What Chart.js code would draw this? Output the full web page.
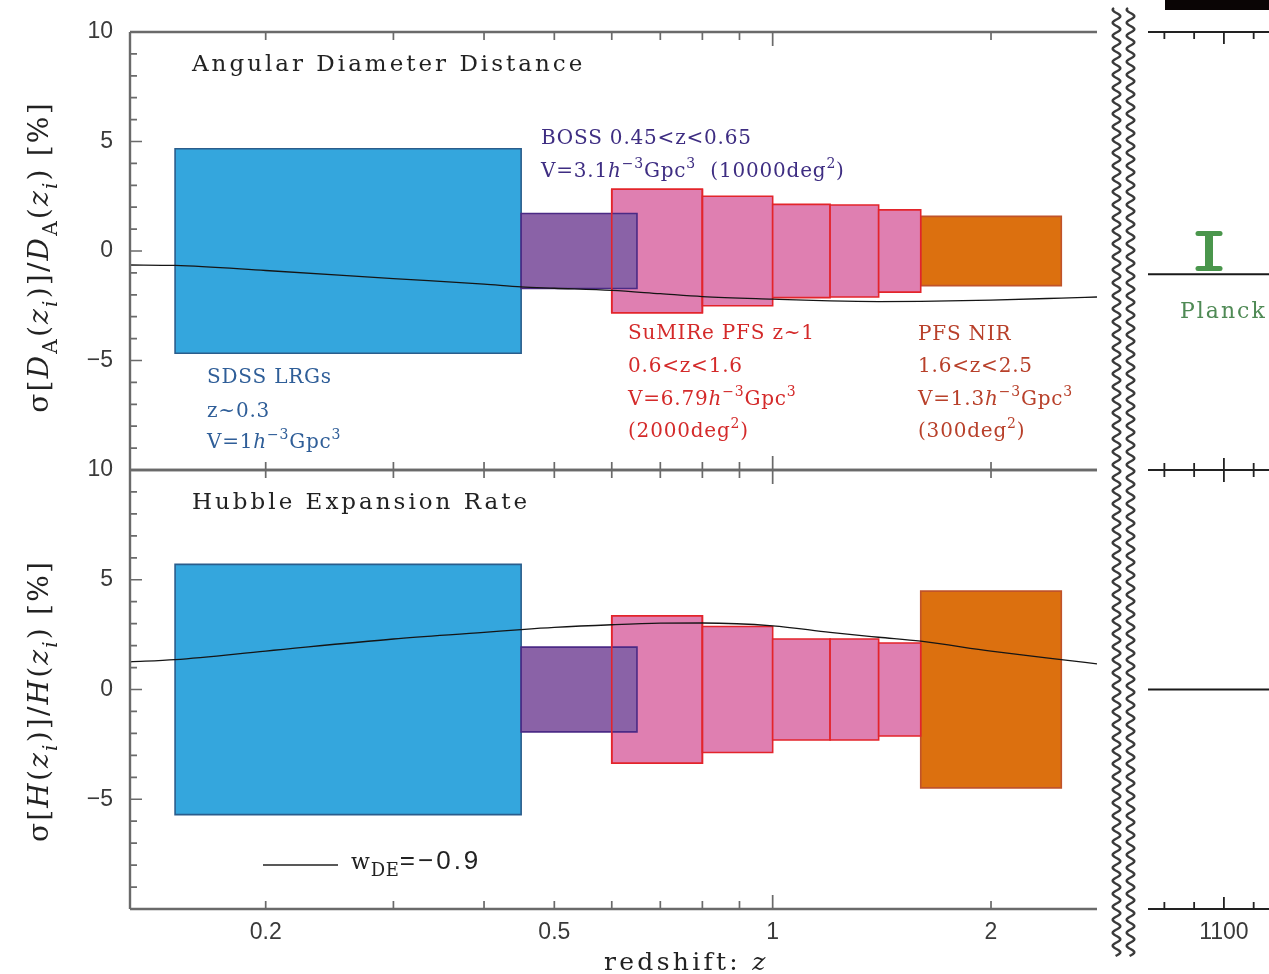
<!DOCTYPE html>
<html>
<head>
<meta charset="utf-8">
<script src="https://cdn.jsdelivr.net/npm/chart.js@4.4.1/dist/chart.umd.min.js"></script>
<style>
  html, body { margin: 0; padding: 0; background: #fff; overflow: hidden; }
  body { width: 1269px; height: 974px; position: relative; }
  canvas { position: absolute; }
</style>
</head>
<body>
<canvas id="topLeft" width="1100" height="474" style="left:0px;top:0px"></canvas>
<canvas id="botLeft" width="1100" height="534" style="left:0px;top:440px"></canvas>
<canvas id="topRight" width="240" height="974" style="left:1100px;top:0px"></canvas>
<canvas id="botRight" width="240" height="534" style="left:1100px;top:440px"></canvas>
<script>
// redshift bins of each survey
const sdssBin = [0.15, 0.45];
const bossBin = [0.45, 0.65];
const pfsBins = [0.6, 0.8, 1.0, 1.2, 1.4, 1.6];
const nirBin = [1.6, 2.5];

// fractional errors in percent (half height of each box)
const sdssErrDA = 4.67, sdssErrH = 5.7;
const bossErrDA = 1.71, bossErrH = 1.93;
const pfsErrDA = [2.82, 2.5, 2.13, 2.1, 1.88];
const pfsErrH = [3.36, 2.87, 2.3, 2.3, 2.12];
const nirErrDA = 1.58, nirErrH = 4.48;

// w_DE = -0.9 curve
const wZ  = [0.13, 0.15, 0.2, 0.3, 0.4, 0.45, 0.5, 0.6, 0.7, 0.8, 1.0, 1.2, 1.4, 1.6, 2.0, 2.5, 2.8];
const wDA = [-0.64, -0.66, -0.89, -1.26, -1.51, -1.64, -1.7, -1.8, -1.95, -2.08, -2.2, -2.28, -2.31, -2.3, -2.24, -2.15, -2.1];
const wH  = [1.26, 1.36, 1.75, 2.3, 2.6, 2.73, 2.83, 2.95, 3.02, 3.03, 2.9, 2.6, 2.38, 2.2, 1.75, 1.36, 1.17];
const wDAcmb = -1.06, wHcmb = 0;

// Planck at the CMB
const planckZ = 1090, planckErr = 0.8;

// axes
const zRange = [0.13, 2.8];
const cmbRange = [1049, 1178];
const yRange = [-10, 10];
const xTickLabels = [0.2, 0.5, 1, 2];
const xMinorTicks = [0.2, 0.3, 0.4, 0.5, 0.6, 0.7, 0.8, 0.9, 1, 2];
const xMajorTicks = [1];
const yTickLabels = [-10, -5, 0, 5, 10];
const yMinorTicks = [-9,-8,-7,-6,-5,-4,-3,-2,-1,0,1,2,3,4,5,6,7,8,9];
const cmbTicks = [1060, 1080, 1100, 1120, 1140, 1160];
const cmbTickLabels = [1100];

const SERIF = '"DejaVu Serif", serif';
const SANS = '"Liberation Sans", Arial, sans-serif';
const C = {
  sdss: '#34a6dd', sdssEdge: '#2a5d8c',
  boss: '#8a62a7', bossEdge: '#4b2a85',
  pfs: '#df7fb1', pfsEdge: '#e3242b',
  nir: '#dc700f', nirEdge: '#c0532a',
  planck: '#4a964c'
};

function fmt(v) { return v < 0 ? '\u2212' + (-v) : String(v); }

// small rich text: $..$ italic, ^{..} sup, _{..} sub, @..@ sans
function parseRich(s) {
  const segs = []; let it = false, sans = false, buf = '';
  const push = (t, mode, ital) => { if (t) segs.push({ t, mode, it: ital, sans }); };
  for (let i = 0; i < s.length; i++) {
    const c = s[i];
    if (c === '$') { push(buf, 'n', it); buf = ''; it = !it; }
    else if (c === '@') { push(buf, 'n', it); buf = ''; sans = !sans; }
    else if ((c === '^' || c === '_') && s[i + 1] === '{') {
      push(buf, 'n', it); buf = '';
      const j = s.indexOf('}', i);
      let t = s.slice(i + 2, j), ital = false;
      if (t[0] === '$') { t = t.slice(1, -1); ital = true; }
      push(t, c === '^' ? 'sup' : 'sub', ital);
      i = j;
    } else buf += c;
  }
  push(buf, 'n', it);
  return segs;
}

function drawRich(ctx, s, x, y, o) {
  const segs = parseRich(s);
  const size = o.size || 20;
  const small = Math.round(size * (o.subScale || 0.7));
  const segSize = g => g.mode !== 'n' ? small : (g.sans && o.sansSize ? o.sansSize : size);
  const fontFor = g => (g.it ? 'italic ' : '') + segSize(g) + 'px ' + (g.sans ? SANS : (o.family || SERIF));
  const spFor = g => ((g.sans && o.sansSpacing != null) ? o.sansSpacing : (o.spacing || 0)) + 'px';
  let w = 0;
  for (const g of segs) { ctx.font = fontFor(g); ctx.letterSpacing = spFor(g); g.w = ctx.measureText(g.t).width; w += g.w; }
  let cx = o.align === 'center' ? x - w / 2 : x;
  ctx.fillStyle = o.color || '#222';
  ctx.textAlign = 'left';
  ctx.textBaseline = 'alphabetic';
  for (const g of segs) {
    ctx.font = fontFor(g);
    ctx.letterSpacing = spFor(g);
    const dy = g.mode === 'sup' ? -size * 0.45 : g.mode === 'sub' ? size * 0.32 : 0;
    ctx.fillText(g.t, cx, y + dy);
    cx += g.w;
  }
}

const notes = {
  id: 'notes',
  afterDraw(chart, args, o) {
    const ctx = chart.ctx;
    for (const n of o.items || []) {
      ctx.save();
      if (n.rotate) {
        ctx.translate(n.x - o.dx, n.y - o.dy);
        ctx.rotate(-Math.PI / 2);
        drawRich(ctx, n.s, 0, 0, n);
      } else {
        drawRich(ctx, n.s, n.x - o.dx, n.y - o.dy, n);
      }
      ctx.restore();
    }
  }
};

const frame = {
  id: 'frame',
  afterDraw(chart, args, o) {
    const { ctx, chartArea: a } = chart;
    const xs = chart.scales.x, ys = chart.scales.y;
    const right = o.toEdge ? chart.width : a.right;
    ctx.save();
    ctx.strokeStyle = o.color;
    ctx.lineWidth = o.width;
    ctx.beginPath();
    if (o.left) { ctx.moveTo(a.left, a.top); ctx.lineTo(a.left, a.bottom); }
    if (o.top) { ctx.moveTo(a.left, a.top); ctx.lineTo(right, a.top); }
    if (o.bottom) { ctx.moveTo(a.left, a.bottom); ctx.lineTo(right, a.bottom); }
    ctx.stroke();
    ctx.lineWidth = o.tickWidth;
    ctx.beginPath();
    for (const v of o.xTicks) {
      const px = xs.getPixelForValue(v);
      const len = o.xMajor.includes(v) ? o.major : o.minor;
      if (o.top) { ctx.moveTo(px, a.top); ctx.lineTo(px, a.top + len); }
      if (o.bottom) { ctx.moveTo(px, a.bottom); ctx.lineTo(px, a.bottom - len); }
    }
    for (const v of (o.yTicks || [])) {
      const py = ys.getPixelForValue(v);
      const len = v % 5 === 0 ? o.major - 2 : o.minor - 1;
      ctx.moveTo(a.left, py); ctx.lineTo(a.left + len, py);
    }
    ctx.stroke();
    if (o.decor) o.decor(ctx);
    ctx.restore();
  }
};

function boxPts(z0, z1, e) {
  return [{ x: z0, y: -e }, { x: z0, y: e }, { x: z1, y: e }, { x: z1, y: -e }, { x: z0, y: -e }];
}
function boxSet(pts, fill, edge) {
  return {
    data: pts, backgroundColor: fill || 'rgba(0,0,0,0)', borderColor: edge, borderWidth: 1.6,
    fill: fill ? 'shape' : false, pointRadius: 0, tension: 0,
    borderJoinStyle: 'miter', borderCapStyle: 'square'
  };
}
function panelSets(sdssE, bossE, pfsE, nirE, wVals) {
  const paint = [];
  paint.push(boxSet(boxPts(sdssBin[0], sdssBin[1], sdssE), C.sdss, C.sdssEdge));
  paint.push(boxSet(boxPts(nirBin[0], nirBin[1], nirE), C.nir, C.nirEdge));
  for (let i = 0; i < pfsBins.length - 1; i++) {
    paint.push(boxSet(boxPts(pfsBins[i], pfsBins[i + 1], pfsE[i]), C.pfs, C.pfsEdge));
  }
  paint.push(boxSet(boxPts(bossBin[0], bossBin[1], bossE), C.boss, C.bossEdge));
  paint.push(boxSet(boxPts(pfsBins[0], pfsBins[1], pfsE[0]), null, C.pfsEdge));
  paint.push({
    data: wZ.map((z, i) => ({ x: z, y: wVals[i] })), borderColor: '#151515', borderWidth: 1.3,
    pointRadius: 0, fill: false, cubicInterpolationMode: 'monotone'
  });
  return paint.reverse(); // first item is painted last
}

function yAxis() {
  return {
    type: 'linear', min: yRange[0], max: yRange[1],
    afterBuildTicks: s => { s.ticks = yTickLabels.map(v => ({ value: v })); },
    afterFit: s => { s.width = 130; s.paddingTop = 0; s.paddingBottom = 0; },
    grid: { display: false, drawTicks: false }, border: { display: false },
    ticks: { padding: 17, color: '#3a3a3a', font: { family: SANS, size: 23 },
      callback: v => v === -10 ? '' : fmt(v) }
  };
}

const leftFrame = { color: '#6a6a6a', width: 2.4, tickWidth: 1.7, left: true, top: true, bottom: true,
  xTicks: xMinorTicks, xMajor: xMajorTicks, major: 14, minor: 8, yTicks: yMinorTicks };
const rightFrame = { color: '#222', width: 2, tickWidth: 1.8, left: false, top: true, bottom: true, toEdge: true,
  xTicks: cmbTicks, xMajor: cmbTickLabels, major: 12, minor: 7 };

const baseOpts = { responsive: false, animation: false, events: [] };
const titleFont = { size: 23, spacing: 3 };
const noteFont = { size: 20, spacing: 0.8 };

// top left: angular diameter distance
new Chart(document.getElementById('topLeft'), {
  type: 'line',
  data: { datasets: panelSets(sdssErrDA, bossErrDA, pfsErrDA, nirErrDA, wDA) },
  options: {
    ...baseOpts,
    layout: { padding: { top: 32, right: 3, bottom: 4, left: 0 } },
    scales: {
      x: { type: 'logarithmic', min: zRange[0], max: zRange[1], display: false },
      y: yAxis()
    },
    plugins: {
      legend: { display: false }, tooltip: { enabled: false },
      frame: leftFrame,
      notes: { dx: 0, dy: 0, items: [
        { s: 'Angular Diameter Distance', x: 192, y: 71, ...titleFont },
        { s: '\u03c3[$D$_{A}($z$_{$i$})]/$D$_{A}($z$_{$i$}) [%]', x: 48, y: 257, size: 28, rotate: true, align: 'center', spacing: 2.2 },
        { s: 'BOSS 0.45<z<0.65', x: 541, y: 144, color: '#3e2d82', ...noteFont },
        { s: 'V=3.1$h$^{\u22123}Gpc^{3}  (10000deg^{2})', x: 541, y: 177, color: '#3e2d82', ...noteFont },
        { s: 'SDSS LRGs', x: 207, y: 383, color: '#2f5e98', ...noteFont },
        { s: 'z~0.3', x: 207, y: 417, color: '#2f5e98', ...noteFont },
        { s: 'V=1$h$^{\u22123}Gpc^{3}', x: 207, y: 448, color: '#2f5e98', ...noteFont },
        { s: 'SuMIRe PFS z~1', x: 628, y: 339, color: '#d42a2a', ...noteFont },
        { s: '0.6<z<1.6', x: 628, y: 372, color: '#d42a2a', ...noteFont },
        { s: 'V=6.79$h$^{\u22123}Gpc^{3}', x: 628, y: 405, color: '#d42a2a', ...noteFont },
        { s: '(2000deg^{2})', x: 628, y: 437, color: '#d42a2a', ...noteFont },
        { s: 'PFS NIR', x: 918, y: 340, color: '#b8402a', ...noteFont },
        { s: '1.6<z<2.5', x: 918, y: 372, color: '#b8402a', ...noteFont },
        { s: 'V=1.3$h$^{\u22123}Gpc^{3}', x: 918, y: 405, color: '#b8402a', ...noteFont },
        { s: '(300deg^{2})', x: 918, y: 437, color: '#b8402a', ...noteFont }
      ] }
    }
  },
  plugins: [frame, notes]
});

// bottom left: Hubble expansion rate
new Chart(document.getElementById('botLeft'), {
  type: 'line',
  data: { datasets: panelSets(sdssErrH, bossErrH, pfsErrH, nirErrH, wH) },
  options: {
    ...baseOpts,
    layout: { padding: { top: 30, right: 3, bottom: 0, left: 0 } },
    scales: {
      x: {
        type: 'logarithmic', min: zRange[0], max: zRange[1],
        afterBuildTicks: s => { s.ticks = xTickLabels.map(v => ({ value: v })); },
        afterFit: s => { s.height = 65; },
        grid: { display: false, drawTicks: false }, border: { display: false },
        ticks: { padding: 10, autoSkip: false, maxRotation: 0, minRotation: 0, color: '#3a3a3a',
          font: { family: SANS, size: 23 }, callback: v => String(v) }
      },
      y: yAxis()
    },
    plugins: {
      legend: { display: false }, tooltip: { enabled: false },
      frame: {
        ...leftFrame,
        decor(ctx) {
          // legend sample line for w_DE
          ctx.strokeStyle = '#222'; ctx.lineWidth = 1.4;
          ctx.beginPath(); ctx.moveTo(263, 865 - 440); ctx.lineTo(338, 865 - 440); ctx.stroke();
        }
      },
      notes: { dx: 0, dy: 440, items: [
        { s: 'Hubble Expansion Rate', x: 192, y: 509, ...titleFont },
        { s: '\u03c3[$H$($z$_{$i$})]/$H$($z$_{$i$}) [%]', x: 48, y: 701, size: 28, rotate: true, align: 'center', spacing: 2.2 },
        { s: 'w_{DE}@=\u22120.9@', x: 351, y: 869, size: 22, spacing: 0.8, subScale: 0.82, sansSize: 26, sansSpacing: 3 },
        { s: 'redshift: $z$', x: 604, y: 970, size: 25, spacing: 3.3 }
      ] }
    }
  },
  plugins: [frame, notes]
});

function wave(ctx, cx, y0, y1) {
  ctx.beginPath();
  for (let y = y0; y <= y1; y += 0.5) {
    const x = cx + 3.8 * Math.sin(2 * Math.PI * y / 13);
    if (y === y0) ctx.moveTo(x, y); else ctx.lineTo(x, y);
  }
  ctx.stroke();
}

// top right: CMB, Planck
new Chart(document.getElementById('topRight'), {
  type: 'line',
  data: { datasets: [
    { data: [{ x: planckZ - 7.4, y: planckErr }, { x: planckZ + 7.4, y: planckErr }], borderColor: C.planck, borderWidth: 5, pointRadius: 0, borderCapStyle: 'round' },
    { data: [{ x: planckZ - 7.4, y: -planckErr }, { x: planckZ + 7.4, y: -planckErr }], borderColor: C.planck, borderWidth: 5, pointRadius: 0, borderCapStyle: 'round' },
    { data: [{ x: planckZ, y: -planckErr }, { x: planckZ, y: planckErr }], borderColor: C.planck, borderWidth: 8, pointRadius: 0 },
    { data: [{ x: cmbRange[0], y: wDAcmb }, { x: cmbRange[1], y: wDAcmb }], borderColor: '#1a1a1a', borderWidth: 2, pointRadius: 0 }
  ] },
  options: {
    ...baseOpts,
    layout: { padding: { top: 32, right: 0, bottom: 504, left: 48 } },
    scales: {
      x: { type: 'linear', min: cmbRange[0], max: cmbRange[1], display: false },
      y: { type: 'linear', min: yRange[0], max: yRange[1], display: false }
    },
    plugins: {
      legend: { display: false }, tooltip: { enabled: false },
      frame: {
        ...rightFrame,
        decor(ctx) {
          ctx.strokeStyle = '#3a3a3a'; ctx.lineWidth = 2.4;
          wave(ctx, 16.5, 8, 956);
          wave(ctx, 30.5, 8, 956);
          ctx.fillStyle = '#0a0505';
          ctx.fillRect(65, 0, 200, 10);
        }
      },
      notes: { dx: 1100, dy: 0, items: [
        { s: 'Planck', x: 1180, y: 318, color: '#4f8a55', size: 22, spacing: 2 }
      ] }
    }
  },
  plugins: [frame, notes]
});

// bottom right: CMB
new Chart(document.getElementById('botRight'), {
  type: 'line',
  data: { datasets: [
    { data: [{ x: cmbRange[0], y: wHcmb }, { x: cmbRange[1], y: wHcmb }], borderColor: '#1a1a1a', borderWidth: 2, pointRadius: 0 }
  ] },
  options: {
    ...baseOpts,
    layout: { padding: { top: 30, right: 0, bottom: 0, left: 48 } },
    scales: {
      x: {
        type: 'linear', min: cmbRange[0], max: cmbRange[1],
        afterBuildTicks: s => { s.ticks = cmbTickLabels.map(v => ({ value: v })); },
        afterFit: s => { s.height = 65; },
        grid: { display: false, drawTicks: false }, border: { display: false },
        ticks: { padding: 10, autoSkip: false, maxRotation: 0, color: '#3a3a3a',
          font: { family: SANS, size: 23 }, callback: v => String(v) }
      },
      y: { type: 'linear', min: yRange[0], max: yRange[1], display: false }
    },
    plugins: {
      legend: { display: false }, tooltip: { enabled: false },
      frame: rightFrame
    }
  },
  plugins: [frame]
});
</script>
</body>
</html>
